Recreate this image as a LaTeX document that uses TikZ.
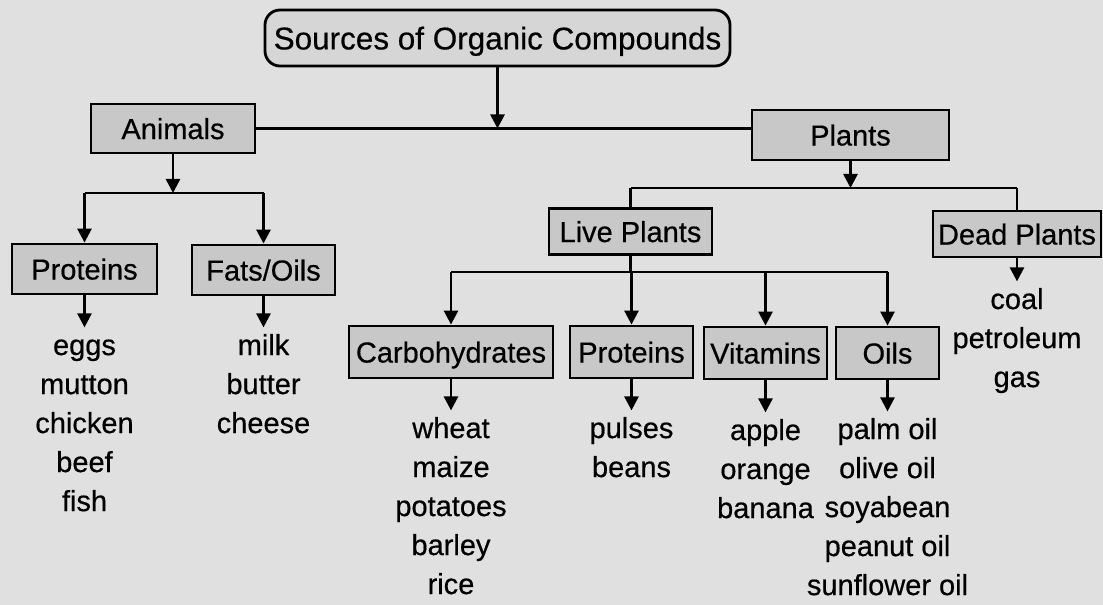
\documentclass[tikz,border=0pt]{standalone}
\usepackage{fontspec}
\setmainfont{Liberation Sans}[FakeBold=0.5]
\usepackage{tikz}
\usetikzlibrary{arrows.meta,positioning}
\definecolor{paper}{RGB}{224,224,224}
\definecolor{boxgray}{RGB}{200,200,200}
\definecolor{titlegray}{RGB}{214,214,214}

\begin{document}
\begin{tikzpicture}[
  box/.style={rectangle, draw, line width=1.6pt, fill=boxgray, inner xsep=2pt, inner ysep=0pt, minimum height=1cm, text height=12pt, text depth=0pt, font=\fontsize{16.5}{20}\selectfont},
  head/.style={box, rounded corners=0.3cm, fill=titlegray, minimum height=1.12cm, text height=13pt, font=\fontsize{17.9}{22}\selectfont},
  items/.style={align=center, inner sep=0pt, font=\fontsize{16.5}{0.78cm}\selectfont},
  link/.style={line width=1.5pt},
  >={Triangle[width=0.28cm, length=0.28cm]}
]
  \path[use as bounding box, fill=paper] (0,0) rectangle (22.06,12.1);

  \node[head] (title) at (9.95, 11.34) [minimum width=9.3cm] {Sources of Organic Compounds};
  \node[box] (animals) at (3.46, 9.53) [minimum width=3.28cm, minimum height=0.98cm] {Animals};
  \node[box] (plants) at (17.01, 9.4) [minimum width=3.94cm] {Plants};

  \node[box] (protA) at (1.69, 6.72) [minimum width=2.9cm] {Proteins};
  \node[box] (fats) at (5.27, 6.7) [minimum width=2.86cm] {Fats/Oils};
  \node[box] (live) at (12.61, 7.47) [minimum width=3.26cm, minimum height=0.92cm] {Live Plants};
  \node[box] (dead) at (20.34, 7.42) [minimum width=3.36cm, minimum height=0.92cm] {Dead Plants};

  \node[box] (carb) at (9.02, 5.06) [minimum width=4.08cm, minimum height=1.04cm] {Carbohydrates};
  \node[box] (protB) at (12.63, 5.06) [minimum width=2.46cm, minimum height=1.04cm] {Proteins};
  \node[box] (vit) at (15.31, 5.04) [minimum width=2.46cm, minimum height=1.04cm] {Vitamins};
  \node[box] (oils) at (17.75, 5.04) [minimum width=2.06cm, minimum height=1.04cm] {Oils};

  \node[items, below=0.64cm of protA] (meat) {\strut eggs\\mutton\\chicken\\beef\\fish};
  \node[items, below=0.62cm of fats] (dairy) {\strut milk\\butter\\cheese};
  \node[items, below=0.62cm of carb] (grains) {\strut wheat\\maize\\potatoes\\barley\\rice};
  \node[items, below=0.62cm of protB] (pulses) {\strut pulses\\beans};
  \node[items, below=0.64cm of vit] (fruits) {\strut apple\\orange\\banana};
  \node[items, below=0.62cm of oils] (oilseeds) {\strut palm oil\\olive oil\\soyabean\\peanut oil\\sunflower oil};
  \node[items, below=0.46cm of dead] (fossils) {\strut coal\\petroleum\\gas};

  \coordinate (split1) at (0, 8.24);
  \coordinate (split2) at (0, 8.34);
  \coordinate (split3) at (0, 6.66);

  \draw[link] (animals.east) -- (animals.east -| plants.west);
  \draw[link, ->] (title.south) -- (title.south |- animals.east);

  \draw[link, ->] (animals.south) -- (animals.south |- split1);
  \draw[link] (split1 -| protA) -- (split1 -| fats);
  \draw[link, ->] (split1 -| protA) -- (protA);
  \draw[link, ->] (split1 -| fats) -- (fats);

  \draw[link, ->] (plants.south) -- (plants.south |- split2);
  \draw[link] (split2 -| live) -- (split2 -| dead);
  \draw[link] (split2 -| live) -- (live);
  \draw[link] (split2 -| dead) -- (dead);

  \draw[link] (live) -- (live |- split3);
  \draw[link] (split3 -| carb) -- (split3 -| oils);
  \foreach \kid in {carb, protB, vit, oils}
    \draw[link, ->] (split3 -| \kid) -- (\kid);

  \draw[link, ->] (protA) -- (meat);
  \draw[link, ->] (fats) -- (dairy);
  \draw[link, ->] (carb) -- (grains);
  \draw[link, ->] (protB) -- (pulses);
  \draw[link, ->] (vit) -- (fruits);
  \draw[link, ->] (oils) -- (oilseeds);
  \draw[link, ->] (dead) -- (fossils);
\end{tikzpicture}
\end{document}
